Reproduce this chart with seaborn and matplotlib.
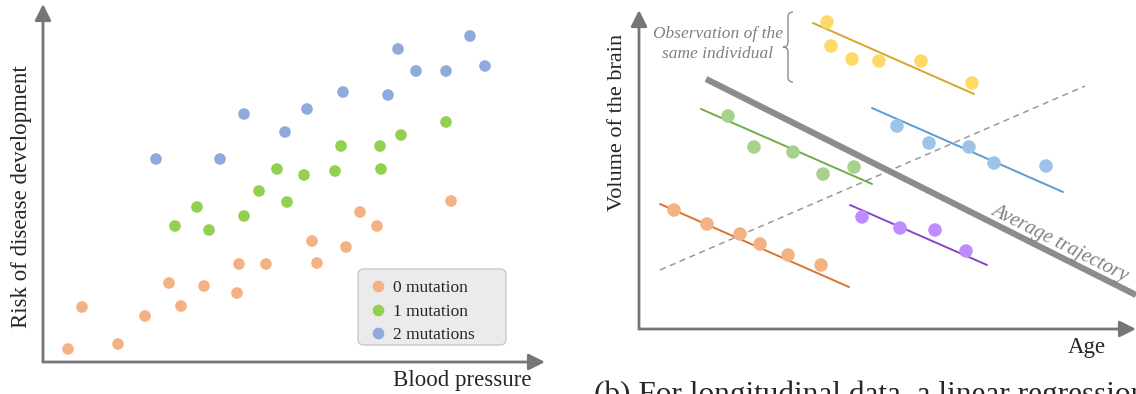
import numpy as np
import pandas as pd
import matplotlib
matplotlib.use('Agg')
import matplotlib.pyplot as plt
from matplotlib.path import Path
from matplotlib.patches import PathPatch, FancyBboxPatch
import seaborn as sns

# Schematic figure, no real scale: values are positions read off the picture
# (left panel: origin at the axis corner, right panel: same).

# --- left panel: risk vs blood pressure, by number of mutations
bp_0 = [25, 39, 75, 102, 126, 138, 161, 194, 196, 223, 269, 274, 303, 317, 334, 408]
risk_0 = [13, 55, 18, 46, 79, 56, 76, 69, 98, 98, 121, 99, 115, 150, 136, 161]
bp_1 = [132, 154, 166, 201, 216, 234, 244, 261, 292, 298, 337, 338, 358, 403]
risk_1 = [136, 155, 132, 146, 171, 193, 160, 187, 191, 216, 216, 193, 227, 240]
bp_2 = [113, 177, 201, 242, 264, 300, 345, 355, 373, 403, 427, 442]
risk_2 = [203, 203, 248, 230, 253, 270, 267, 313, 291, 291, 326, 296]
mutation_labels = ['0 mutation', '1 mutation', '2 mutations']
mutation_colors = ['#F4B183', '#92D050', '#8FAADC']

# --- right panel: brain volume vs age, repeated observations per individual
individuals = ['yellow', 'green', 'blue', 'orange', 'purple']
age_obs = {
    'yellow': [188, 192, 213, 240, 282, 333],
    'green': [89, 115, 154, 184, 215],
    'blue': [258, 290, 330, 355, 407],
    'orange': [35, 68, 101, 121, 149, 182],
    'purple': [223, 261, 296, 327],
}
volume_obs = {
    'yellow': [307, 283, 270, 268, 268, 246],
    'green': [213, 182, 177, 155, 162],
    'blue': [203, 186, 182, 166, 163],
    'orange': [119, 105, 95, 85, 74, 64],
    'purple': [112, 101, 99, 78],
}
# per-individual trajectory (start/end)
traj_age = {'yellow': (174, 335), 'green': (62, 233), 'blue': (233, 424),
            'orange': (21, 210), 'purple': (211, 348)}
traj_vol = {'yellow': (306, 235), 'green': (220, 145), 'blue': (221, 137),
            'orange': (125, 42), 'purple': (124, 64)}
point_colors = {'yellow': '#FFD966', 'green': '#A9D18E', 'blue': '#9DC3E6',
                'orange': '#F4B183', 'purple': '#BF8CFF'}
line_colors = {'yellow': '#D4A62A', 'green': '#70AD47', 'blue': '#5B9BD5',
               'orange': '#D8742F', 'purple': '#8A44CC'}
avg_age = (67, 497)
avg_vol = (250, 34)
cross_age = (21, 446)
cross_vol = (59, 243)

AXIS_GRAY = '#767676'
TEXT_GRAY = '#808080'

sns.set_style('white')
plt.rcParams['font.family'] = ['Liberation Serif', 'DejaVu Serif']

W, H = 1136, 394
fig = plt.figure(figsize=(W / 100, H / 100), dpi=100)


def px_axes(x0, y_top, x1, y_bot):
    return fig.add_axes([x0 / W, (H - y_bot) / H, (x1 - x0) / W, (y_bot - y_top) / H])


def arrows(ax):
    for xy in [(1, 0), (0, 1)]:
        ax.annotate('', xy=xy, xytext=(0, 0), xycoords='axes fraction',
                    textcoords='axes fraction',
                    arrowprops=dict(arrowstyle='-|>,head_length=0.7,head_width=0.35',
                                    color=AXIS_GRAY, lw=2, mutation_scale=14,
                                    shrinkA=0, shrinkB=0),
                    annotation_clip=False)
    for s in ax.spines.values():
        s.set_visible(False)
    ax.set_xticks([])
    ax.set_yticks([])


# ---------------- left panel
ax1 = px_axes(43, 4, 545, 362)
ax1.set_xlim(0, 502)
ax1.set_ylim(0, 358)
left = pd.DataFrame({
    'bp': bp_0 + bp_1 + bp_2,
    'risk': risk_0 + risk_1 + risk_2,
    'mutations': [mutation_labels[0]] * len(bp_0) + [mutation_labels[1]] * len(bp_1)
                 + [mutation_labels[2]] * len(bp_2),
})
sns.scatterplot(data=left, x='bp', y='risk', hue='mutations',
                palette=dict(zip(mutation_labels, mutation_colors)),
                s=70, linewidth=0, ax=ax1, clip_on=False, zorder=3)
arrows(ax1)
ax1.set_xlabel('')
ax1.set_ylabel('')
ax1.text(419, -24, 'Blood pressure', ha='center', va='baseline', fontsize=16.5)
ax1.text(-21, 165, 'Risk of disease development', ha='center', va='center',
         rotation=90, fontsize=16.5)
# legend box drawn separately: the original has extra room on the right
ax1.add_patch(FancyBboxPatch((315, 17), 148, 76,
                             boxstyle='round,pad=0,rounding_size=6',
                             facecolor='#EBEBEB', edgecolor='#C9C9C9', lw=1.0,
                             zorder=4))
h, l = ax1.get_legend_handles_labels()
leg = ax1.legend(h, l, loc='lower left', bbox_to_anchor=(0.628, 0.026),
                 fontsize=12.5, frameon=False, handletextpad=0.25,
                 labelspacing=0.42, borderpad=0.55, handlelength=1.2,
                 borderaxespad=0)
leg.set_zorder(5)

# ---------------- right panel
ax2 = px_axes(639, 10, 1136, 329)
ax2.set_xlim(0, 497)
ax2.set_ylim(0, 319)
rows = []
for ind in individuals:
    for a, v in zip(age_obs[ind], volume_obs[ind]):
        rows.append({'age': a, 'volume': v, 'individual': ind})
right = pd.DataFrame(rows)

ax2.plot(cross_age, cross_vol, color='#999999', lw=1.1, ls=(0, (4, 3)), zorder=1)
ax2.plot(avg_age, avg_vol, color='#8C8C8C', lw=4.5, solid_capstyle='butt',
         zorder=2, clip_on=False)
for ind in individuals:
    ax2.plot(traj_age[ind], traj_vol[ind], color=line_colors[ind], lw=1.4, zorder=2)
sns.scatterplot(data=right, x='age', y='volume', hue='individual',
                palette=point_colors, s=95, linewidth=0, ax=ax2,
                legend=False, zorder=3, clip_on=False)
arrows(ax2)
ax2.set_xlabel('')
ax2.set_ylabel('')
ax2.text(448, -24, 'Age', ha='center', va='baseline', fontsize=16.5)
ax2.text(-22, 207, 'Volume of the brain', ha='center', va='center',
         rotation=90, fontsize=16)
ang = np.degrees(np.arctan2(avg_vol[1] - avg_vol[0], avg_age[1] - avg_age[0]))
ax2.text(421, 86, 'Average trajectory', rotation=ang, rotation_mode='anchor',
         ha='center', va='center', fontsize=14.5, style='italic', color=TEXT_GRAY)
ax2.text(79, 295, 'Observation of the', ha='center', va='center', fontsize=12.5,
         style='italic', color=TEXT_GRAY)
ax2.text(79, 275, 'same individual', ha='center', va='center', fontsize=12.5,
         style='italic', color=TEXT_GRAY)

# curly brace next to the annotation
bx, btop, bbot, btip = 149, 317, 247, 282
w = 5
verts = [(bx + w, btop),
         (bx, btop), (bx, btop - w),
         (bx, btip + w),
         (bx, btip), (bx - w, btip),
         (bx, btip), (bx, btip - w),
         (bx, bbot + w),
         (bx, bbot), (bx + w, bbot)]
codes = [Path.MOVETO,
         Path.CURVE3, Path.CURVE3,
         Path.LINETO,
         Path.CURVE3, Path.CURVE3,
         Path.CURVE3, Path.CURVE3,
         Path.LINETO,
         Path.CURVE3, Path.CURVE3]
ax2.add_patch(PathPatch(Path(verts, codes), fill=False, edgecolor='#8C8C8C',
                        lw=1.0, clip_on=False))

# caption of panel (b), cut by the bottom edge in the original
fig.text(594 / W, (H - 403) / H, '(b) For longitudinal data, a linear regression',
         ha='left', va='baseline', fontsize=22.5)

fig.savefig('out.png', dpi=100)
